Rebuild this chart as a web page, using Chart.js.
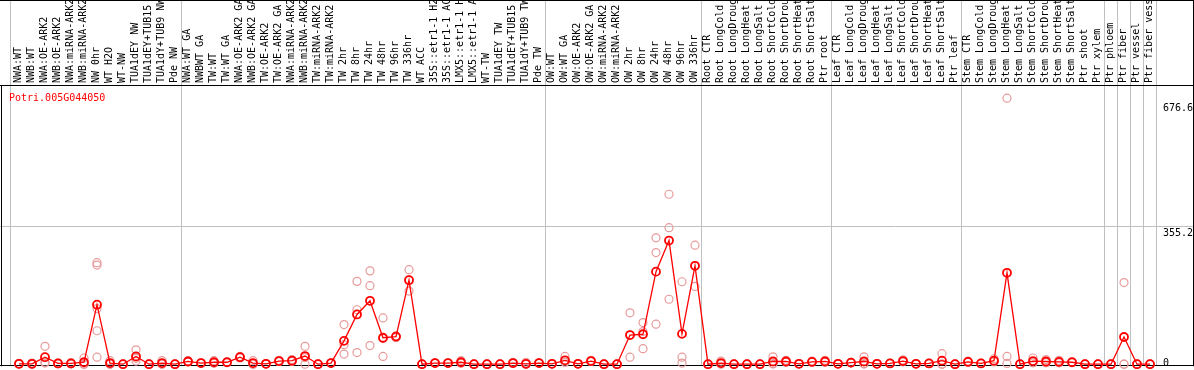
<!DOCTYPE html>
<html>
<head>
<meta charset="utf-8">
<script src="https://cdn.jsdelivr.net/npm/chart.js@4/dist/chart.umd.min.js"></script>
<style>
  html, body { margin: 0; padding: 0; background: #ffffff; }
  #wrap { width: 1194px; height: 370px; }
</style>
</head>
<body>
<div id="wrap"><canvas id="c" width="1194" height="370"></canvas></div>
<script>
const geneName = 'Potri.005G044050';

const categories = [
  'NWA:WT','NWB:WT','NWA:OE-ARK2','NWB:OE-ARK2','NWA:miRNA-ARK2','NWB:miRNA-ARK2','NW 0hr','WT H2O','WT-NW','TUA1dEY NW','TUA1dEY+TUB15 NW','TUA1dY+TUB9 NW','Pde NW',
  'NWA:WT GA','NWBWT GA','TW:WT','TW:WT GA','NWA:OE-ARK2 GA','NWB:OE-ARK2 GA','TW:OE-ARK2','TW:OE-ARK2 GA','NWA:miRNA-ARK2','NWB:miRNA-ARK2','TW:miRNA-ARK2','TW:miRNA-ARK2',
  'TW 2hr','TW 8hr','TW 24hr','TW 48hr','TW 96hr','TW 336hr','WT ACC','35S::etr1-1 H2O','35S::etr1-1 ACC','LMX5::etr1-1 H2O','LMX5::etr1-1 ACC','WT-TW','TUA1dEY TW','TUA1dEY+TUB15 TW','TUA1dY+TUB9 TW','Pde TW',
  'OW:WT','OW:WT GA','OW:OE-ARK2','OW:OE-ARK2 GA','OW:miRNA-ARK2','OW:miRNA-ARK2','OW 2hr','OW 8hr','OW 24hr','OW 48hr','OW 96hr','OW 336hr',
  'Root CTR','Root LongCold','Root LongDrought','Root LongHeat','Root LongSalt','Root ShortCold','Root ShortDrought','Root ShortHeat','Root ShortSalt','Ptr root',
  'Leaf CTR','Leaf LongCold','Leaf LongDrought','Leaf LongHeat','Leaf LongSalt','Leaf ShortCold','Leaf ShortDrought','Leaf ShortHeat','Leaf ShortSalt','Ptr leaf',
  'Stem CTR','Stem LongCold','Stem LongDrought','Stem LongHeat','Stem LongSalt','Stem ShortCold','Stem ShortDrought','Stem ShortHeat','Stem ShortSalt','Ptr shoot','Ptr xylem',
  'Ptr phloem','Ptr fiber','Ptr vessel','Ptr fiber vessel'
];

const meanValues = [
  1, 1, 18, 2, 2, 5, 153, 3, 0, 20, 0, 3, 0,
  7, 3, 5, 5, 18, 3, 1, 8, 9, 21, 0, 3,
  60, 128, 163, 68, 71, 216, 0, 3, 3, 5, 0, 0, 0, 3, 1, 3,
  1, 10, 1, 8, 0, 0, 75, 77, 238, 318, 78, 253,
  0, 3, 0, 0, 0, 7, 7, 1, 6, 7,
  1, 4, 7, 1, 2, 8, 1, 2, 9, 0,
  6, 2, 9, 235, 0, 8, 7, 6, 5, 0, 0,
  0, 70, 0, 0
];

const rep1 = [
  0, 3, 46, 1, 4, 16, 261, 9, 0, 37, 0, 9, 0,
  9, 3, 9, 5, 16, 9, 1, 10, 12, 46, 0, 3,
  102, 213, 240, 119, 68, 243, 0, 3, 3, 9, 0, 0, 0, 5, 5, 3,
  1, 20, 1, 10, 0, 0, 132, 107, 325, 437, 212, 306,
  0, 8, 0, 0, 0, 19, 10, 1, 8, 10,
  1, 5, 19, 1, 2, 11, 1, 2, 27, 0,
  8, 2, 14, 684, 0, 16, 12, 10, 5, 0, 0,
  0, 210, 0, 0
];
const rep2 = [
  2, 0, 3, 2, 1, 0, 255, 0, 0, 8, 0, 0, 0,
  6, 3, 3, 5, 18, 0, 1, 7, 8, 17, 0, 3,
  50, 140, 202, 20, 72, 188, 0, 3, 3, 3, 0, 0, 0, 2, 0, 3,
  1, 5, 1, 7, 0, 0, 18, 84, 287, 351, 18, 200,
  0, 0, 0, 0, 0, 1, 6, 1, 5, 6,
  1, 4, 1, 1, 2, 7, 1, 2, 0, 0,
  5, 2, 7, 20, 0, 4, 5, 4, 5, 0, 0,
  0, 0, 0, 0
];
const rep3 = [
  1, 0, 5, 3, 1, 0, 143, 0, 0, 15, 0, 0, 0,
  6, 3, 3, 5, 20, 0, 1, 7, 7, 0, 0, 3,
  26, 30, 48, 66, 73, 217, 0, 3, 3, 3, 0, 0, 0, 2, 0, 3,
  1, 5, 1, 7, 0, 0, 75, 40, 103, 167, 3, 253,
  0, 1, 0, 0, 0, 1, 5, 1, 5, 5,
  1, 3, 1, 1, 2, 6, 1, 2, 0, 0,
  5, 2, 6, 2, 0, 4, 4, 4, 5, 0, 0,
  0, 0, 0, 0
];
const rep4 = categories.map((c, i) => i === 6 ? 86 : null);
const rep5 = categories.map((c, i) => i === 6 ? 18 : null);

const yTickValues = [0, 355.2, 676.6];
const yMax = 718;
// indices of the first category of each group; the last entry marks the end
const groupStarts = [0, 13, 41, 53, 63, 73, 84, 85, 86, 87, 88];

const MONO = '10px "DejaVu Sans Mono", "Liberation Mono", monospace';
const RED = '#ff0000';
const PINK = '#e89a9a';
const GRID = '#c0c0c0';

const decor = {
  id: 'decor',
  beforeDatasetsDraw(chart) {
    const ctx = chart.ctx;
    const xs = chart.scales.x, ys = chart.scales.y;
    const W = chart.width;
    const bottom = ys.getPixelForValue(0) + 1;
    ctx.save();
    ctx.lineWidth = 1;
    ctx.strokeStyle = GRID;
    // vertical group separators (full height through header)
    groupStarts.forEach((g, k) => {
      let px;
      if (g >= categories.length) px = xs.getPixelForValue(categories.length - 1) + 6;
      else px = xs.getPixelForValue(g) - (k === 0 ? 9 : 7);
      const x = Math.round(px) + 0.5;
      ctx.beginPath(); ctx.moveTo(x, 0); ctx.lineTo(x, bottom); ctx.stroke();
    });
    // horizontal grid at middle tick
    yTickValues.forEach(v => {
      if (v === 0 || v === yTickValues[yTickValues.length - 1]) return;
      const y = Math.round(ys.getPixelForValue(v)) + 0.5;
      ctx.beginPath(); ctx.moveTo(0, y); ctx.lineTo(W, y); ctx.stroke();
    });
    // frame
    ctx.strokeStyle = '#000000';
    ctx.beginPath(); ctx.moveTo(0, 0.5); ctx.lineTo(W, 0.5); ctx.stroke();
    ctx.beginPath(); ctx.moveTo(0, 85.5); ctx.lineTo(W, 85.5); ctx.stroke();
    ctx.beginPath(); ctx.moveTo(0, Math.round(bottom) + 0.5); ctx.lineTo(W, Math.round(bottom) + 0.5); ctx.stroke();
    ctx.beginPath(); ctx.moveTo(1.5, 85); ctx.lineTo(1.5, bottom + 1); ctx.stroke();
    ctx.beginPath(); ctx.moveTo(W - 0.5, 0); ctx.lineTo(W - 0.5, bottom + 1); ctx.stroke();

    // rotated category labels
    ctx.font = MONO;
    ctx.fillStyle = '#000000';
    ctx.textAlign = 'left';
    ctx.textBaseline = 'alphabetic';
    categories.forEach((lab, i) => {
      const px = xs.getPixelForValue(i);
      ctx.save();
      ctx.beginPath(); ctx.rect(0, 1, W, 84); ctx.clip();
      ctx.translate(px + 1.5, 83);
      ctx.rotate(-Math.PI / 2);
      ctx.fillText(lab, 0, 0);
      ctx.restore();
    });

    // gene name
    ctx.fillStyle = RED;
    ctx.fillText(geneName, 9, 101);

    // y tick labels (right side)
    ctx.fillStyle = '#000000';
    yTickValues.forEach(v => {
      const py = ys.getPixelForValue(v);
      const by = Math.min(py + 9.5, 366);
      ctx.fillText(String(v), 1163, by);
    });
    ctx.restore();
  }
};

const repStyle = (data) => ({
  type: 'line',
  data: data,
  showLine: false,
  borderColor: PINK,
  backgroundColor: 'rgba(0,0,0,0)',
  pointRadius: 4,
  pointBorderWidth: 1.2,
  pointBorderColor: PINK,
  pointBackgroundColor: 'rgba(0,0,0,0)',
  clip: false,
  order: 2
});

new Chart(document.getElementById('c'), {
  type: 'line',
  data: {
    labels: categories,
    datasets: [
      repStyle(rep1), repStyle(rep2), repStyle(rep3), repStyle(rep4), repStyle(rep5),
      {
        type: 'line',
        data: meanValues,
        borderColor: RED,
        borderWidth: 1.3,
        tension: 0,
        pointRadius: 4,
        pointBorderWidth: 1.8,
        pointBorderColor: RED,
        pointBackgroundColor: 'rgba(255,255,255,0)',
        clip: false,
        order: 1
      }
    ]
  },
  options: {
    responsive: false,
    animation: false,
    devicePixelRatio: 1,
    layout: { padding: { left: 12.5, right: 37.5, top: 85, bottom: 2 } },
    plugins: { legend: { display: false }, tooltip: { enabled: false } },
    scales: {
      x: { type: 'category', display: false, offset: true },
      y: { type: 'linear', display: false, min: 0, max: yMax }
    }
  },
  plugins: [decor]
});
</script>
</body>
</html>
